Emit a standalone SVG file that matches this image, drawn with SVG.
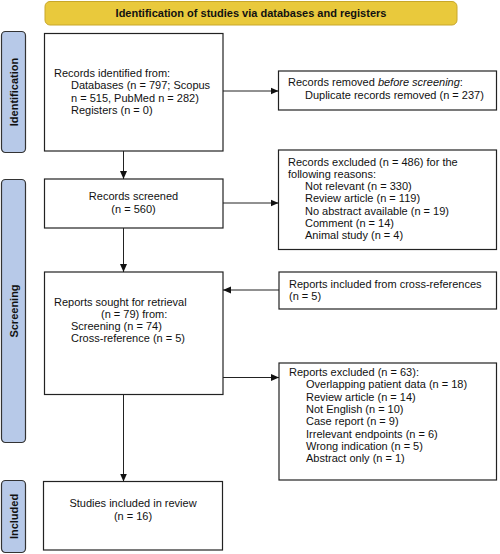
<svg xmlns="http://www.w3.org/2000/svg" width="500" height="554" viewBox="0 0 500 554">
<defs>
<marker id="ah" markerWidth="8" markerHeight="8" refX="8" refY="4" orient="auto" markerUnits="userSpaceOnUse">
<path d="M0,0.5 L8,4 L0,7.5 Z" fill="#111"/>
</marker>
<style>
.box{fill:#fff;stroke:#222;stroke-width:1.2}
.side{fill:#b7c9e8;stroke:#333;stroke-width:1.2}
.t{font-family:"Liberation Sans",Arial,sans-serif;font-size:11px;fill:#111}
.b{font-family:"Liberation Sans",Arial,sans-serif;font-size:11px;font-weight:bold;fill:#111}
.c{stroke:#222;stroke-width:1;fill:none;marker-end:url(#ah)}
</style>
</defs>
<rect width="500" height="554" fill="#fff"/>
<g id="banner">
<rect x="45" y="1.5" width="412" height="23.5" rx="5" fill="#e9c93c" stroke="#c8a72a" stroke-width="1"/>
<text class="b" x="251" y="17" text-anchor="middle">Identification of studies via databases and registers</text>
</g>
<g id="label-identification">
<rect class="side" x="1.5" y="31.5" width="24" height="121" rx="4"/>
<text class="b" transform="translate(17.5,92) rotate(-90)" text-anchor="middle">Identification</text>
</g>
<g id="label-screening">
<rect class="side" x="1.5" y="179.5" width="24" height="263" rx="4"/>
<text class="b" transform="translate(17.5,311) rotate(-90)" text-anchor="middle">Screening</text>
</g>
<g id="label-included">
<rect class="side" x="1.5" y="480.5" width="24" height="72" rx="4"/>
<text class="b" transform="translate(17.5,516.5) rotate(-90)" text-anchor="middle">Included</text>
</g>
<g id="records-identified">
<rect class="box" x="44.5" y="33.5" width="178.5" height="117.5"/>
<text class="t" x="54" y="77">Records identified from:</text>
<text class="t" x="71" y="89.3">Databases (n = 797; Scopus</text>
<text class="t" x="71" y="101.6">n = 515, PubMed n = 282)</text>
<text class="t" x="71" y="113.9">Registers (n = 0)</text>
</g>
<g id="records-removed">
<rect class="box" x="278.5" y="71" width="218" height="39"/>
<text class="t" x="288" y="86">Records removed <tspan font-style="italic">before screening</tspan>:</text>
<text class="t" x="305" y="98.5">Duplicate records removed (n = 237)</text>
</g>
<g id="records-screened">
<rect class="box" x="44.5" y="179" width="178.5" height="49"/>
<text class="t" x="133.5" y="200" text-anchor="middle">Records screened</text>
<text class="t" x="133.5" y="212.5" text-anchor="middle">(n = 560)</text>
</g>
<g id="records-excluded">
<rect class="box" x="278.5" y="150" width="218" height="99.5"/>
<text class="t" x="288" y="165.5">Records excluded (n = 486) for the</text>
<text class="t" x="288" y="177.8">following reasons:</text>
<text class="t" x="305" y="190.1">Not relevant (n = 330)</text>
<text class="t" x="305" y="202.4">Review article (n = 119)</text>
<text class="t" x="305" y="214.7">No abstract available (n = 19)</text>
<text class="t" x="305" y="227">Comment (n = 14)</text>
<text class="t" x="305" y="239.3">Animal study (n = 4)</text>
</g>
<g id="reports-sought">
<rect class="box" x="44.5" y="272" width="178.5" height="122.5"/>
<text class="t" x="54" y="305.5">Reports sought for retrieval</text>
<text class="t" x="101" y="317.8">(n = 79) from:</text>
<text class="t" x="71" y="330.1">Screening (n = 74)</text>
<text class="t" x="71" y="342.4">Cross-reference (n = 5)</text>
</g>
<g id="cross-references">
<rect class="box" x="279" y="272" width="217.5" height="37"/>
<text class="t" x="289" y="288">Reports included from cross-references</text>
<text class="t" x="289" y="300.3">(n = 5)</text>
</g>
<g id="reports-excluded">
<rect class="box" x="279" y="363" width="217.5" height="117"/>
<text class="t" x="289" y="376">Reports excluded (n = 63):</text>
<text class="t" x="306" y="388.3">Overlapping patient data (n = 18)</text>
<text class="t" x="306" y="400.6">Review article (n = 14)</text>
<text class="t" x="306" y="412.9">Not English (n = 10)</text>
<text class="t" x="306" y="425.2">Case report (n = 9)</text>
<text class="t" x="306" y="437.5">Irrelevant endpoints (n = 6)</text>
<text class="t" x="306" y="449.8">Wrong indication (n = 5)</text>
<text class="t" x="306" y="462.1">Abstract only (n = 1)</text>
</g>
<g id="studies-included">
<rect class="box" x="43.5" y="481.5" width="179" height="68.5"/>
<text class="t" x="133" y="507" text-anchor="middle">Studies included in review</text>
<text class="t" x="133" y="519.5" text-anchor="middle">(n = 16)</text>
</g>
<g id="connectors">
<line class="c" x1="223" y1="91" x2="278.5" y2="91"/>
<line class="c" x1="123.5" y1="151" x2="123.5" y2="179"/>
<line class="c" x1="223" y1="203" x2="278.5" y2="203"/>
<line class="c" x1="123.5" y1="228" x2="123.5" y2="272"/>
<line class="c" x1="279" y1="290" x2="223" y2="290"/>
<line class="c" x1="223" y1="377.5" x2="279" y2="377.5"/>
<line class="c" x1="123.5" y1="394.5" x2="123.5" y2="481.5"/>
</g>
</svg>
